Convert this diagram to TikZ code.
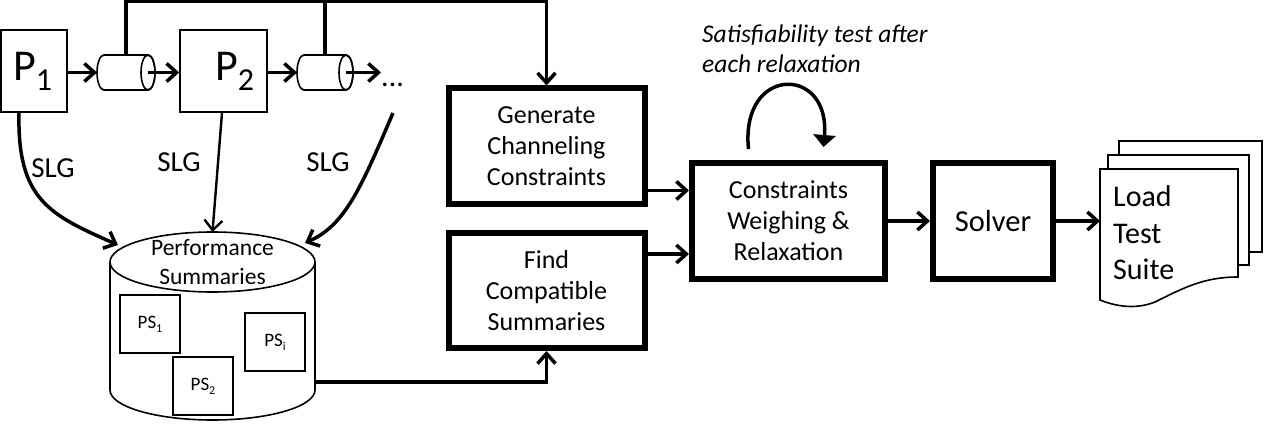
\documentclass[tikz,border=0pt]{standalone}
\usepackage{fontspec}
\setmainfont{Carlito}
\usetikzlibrary{arrows.meta}
% lowered, smaller index text: #1 drop, #2 size, #3 text
\newcommand\lowered[3]{\raisebox{-#1}{\fontsize{#2}{#2}\selectfont #3}}
\begin{document}
\begin{tikzpicture}[x=1pt,y=1pt,
  lightline/.style={line width=1.6pt},
  conn/.style={line width=3.5pt,-{Straight Barb[length=10pt,width=18pt]}},
  loopconn/.style={line width=3.5pt,-{Triangle[length=12pt,width=22pt]}},
  pbox/.style={draw,lightline,inner sep=0pt,minimum height=82pt},
  psbox/.style={draw,lightline,inner sep=0pt,minimum width=60pt,minimum height=58pt,
    font=\fontsize{19}{22}\selectfont},
  stagebox/.style={draw,line width=6pt,inner sep=0pt,align=center,minimum height=115pt,
    font=\fontsize{26}{31}\selectfont},
  region/.style={draw=none,inner sep=0pt,outer sep=0pt},
  slg/.style={font=\fontsize{29}{30}\selectfont},
]
\useasboundingbox (0,0) rectangle (1272,432);

% ---- programs and their queues
\node[pbox,minimum width=66pt] (p1) at (34,361) {};
\node[anchor=base west,inner sep=0pt,font=\fontsize{44}{44}\selectfont] (p1t) at (13,351) {P\lowered{10pt}{32}{1}};
\node[pbox,minimum width=87pt] (p2) at (223.5,361) {};
\node[anchor=base west,inner sep=0pt,font=\fontsize{44}{44}\selectfont] (p2t) at (215,351) {P\lowered{10pt}{32}{2}};
\node[region,minimum width=58pt,minimum height=35pt] (c1) at (126,359.5) {};
\node[region,minimum width=56pt,minimum height=35pt] (c2) at (325,359.5) {};
\node[anchor=base west,inner sep=0pt,font=\fontsize{30}{30}\selectfont] (dots) at (381,345) {...};

\foreach \c in {c1,c2} {
  \draw[lightline] ([xshift=7pt]\c.north west) -- ([xshift=-7pt]\c.north east)
     arc[start angle=90,end angle=-90,x radius=7,y radius=17.5]
     -- ([xshift=7pt]\c.south west)
     arc[start angle=270,end angle=90,x radius=7,y radius=17.5] -- cycle;
  \draw[lightline] ([xshift=-7pt]\c.east) ellipse[x radius=7,y radius=17.5];
}

\draw[conn] (p1.east |- c1.center) -- (c1.west);
\draw[conn] ([xshift=-7pt]c1.east) -- (p2.west |- c1.center);
\draw[conn] (p2.east |- c2.center) -- (c2.west);
\draw[conn] ([xshift=-7pt]c2.east) -- (dots.west |- c2.center);

% ---- stages
\node[stagebox,minimum width=196pt] (gen) at (546.5,286) {Generate\\Channeling\\Constraints};
\node[stagebox,minimum width=196pt] (find) at (546.5,141.5) {Find\\Compatible\\Summaries};
\node[stagebox,minimum width=193pt,minimum height=116pt] (cw) at (788.5,211) {Constraints\\Weighing \&\\Relaxation};
\node[stagebox,minimum width=120pt,minimum height=116pt,font=\fontsize{30.5}{36}\selectfont] (solver) at (993,211) {Solver};

% ---- queues feed the channeling constraints
\coordinate (bus) at (546.5,430.3);
\draw[conn] (c1.north) |- (bus) -- (gen.north);
\draw[line width=3.5pt] (c2.north) -- (c2.north |- bus);

% ---- performance summaries store
\node[region,minimum width=205pt,minimum height=188pt] (db) at (212.5,106) {};
\draw[lightline] ([yshift=-30pt]db.north) ellipse[x radius=102.5,y radius=30];
\draw[lightline] ([yshift=-30pt]db.north west) -- ([yshift=30pt]db.south west)
   arc[start angle=180,end angle=360,x radius=102.5,y radius=30]
   -- ([yshift=-30pt]db.north east);
\node[align=center,inner sep=0pt,font=\fontsize{23.5}{28.5}\selectfont] (dbt) at ([yshift=-30pt]db.north) {Performance\\Summaries};
\node[psbox] (ps1) at (150,108) {PS\lowered{4pt}{12}{1}};
\node[psbox] (ps2) at (203,46) {PS\lowered{4pt}{12}{2}};
\node[psbox] (psi) at (275,90) {PS\lowered{4pt}{12}{i}};

% ---- SLG extraction
\coordinate (slg3) at (393,319);
\draw[conn] ([xshift=-15pt]p1.south) .. controls (17,232) and (50,217) .. ([shift={(-94.5,-13)}]db.north);
\draw[line width=2.4pt,-{Straight Barb[length=10pt,width=18pt]}] ([xshift=-1.5pt]p2.south) -- (db.north);
\draw[conn] (slg3) .. controls (360,242) and (345,207) .. ([shift={(92.5,-11)}]db.north);
\node[slg] (slga) at (53,264) {SLG};
\node[slg] (slgb) at (179,270) {SLG};
\node[slg] (slgc) at (328,270) {SLG};

% ---- store to compatible summaries
\draw[conn] ([yshift=38pt]db.south east) -| (find.south);

% ---- stages to weighing, solver, test suite
\draw[conn] ([yshift=16pt]gen.south east) -- ([yshift=16pt]gen.south east -| cw.west);
\draw[conn] ([yshift=-24pt]find.north east) -- ([yshift=-24pt]find.north east -| cw.west);
\draw[conn] (cw.east) -- (solver.west);

% self loop over the weighing stage
\coordinate (loopA) at ([shift={(-40,11)}]cw.north);
\coordinate (loopB) at ([shift={(35,13)}]cw.north);
\draw[loopconn] (loopA) .. controls +(-8.5,84) and +(7,82) .. (loopB);
\node[anchor=north west,align=left,inner sep=0pt,font=\itshape\fontsize{25.5}{30}\selectfont] (sat) at (702,407)
  {Satisfiability test after\\each relaxation};

% ---- load test suite document stack
\node[region,minimum width=138pt,minimum height=131pt] (doc) at (1169,197.5) {};
\draw[lightline,fill=white] (1119,291) rectangle (1262,180);
\draw[lightline,fill=white] (1108,277) rectangle (1249,167);
\draw[lightline,fill=white] (doc.north west) -- (doc.north east) -- ([yshift=23pt]doc.south east)
   .. controls (1205,155) and (1185,145) .. (1155,130)
   .. controls (1135,122) and (1115,126) .. (doc.south west) -- cycle;
\node[anchor=west,align=left,inner sep=0pt,font=\fontsize{30}{36.5}\selectfont] (doct) at (1113,199) {Load\\Test\\Suite};
\draw[conn] (solver.east) -- (doc.west |- solver.east);
\end{tikzpicture}
\end{document}
